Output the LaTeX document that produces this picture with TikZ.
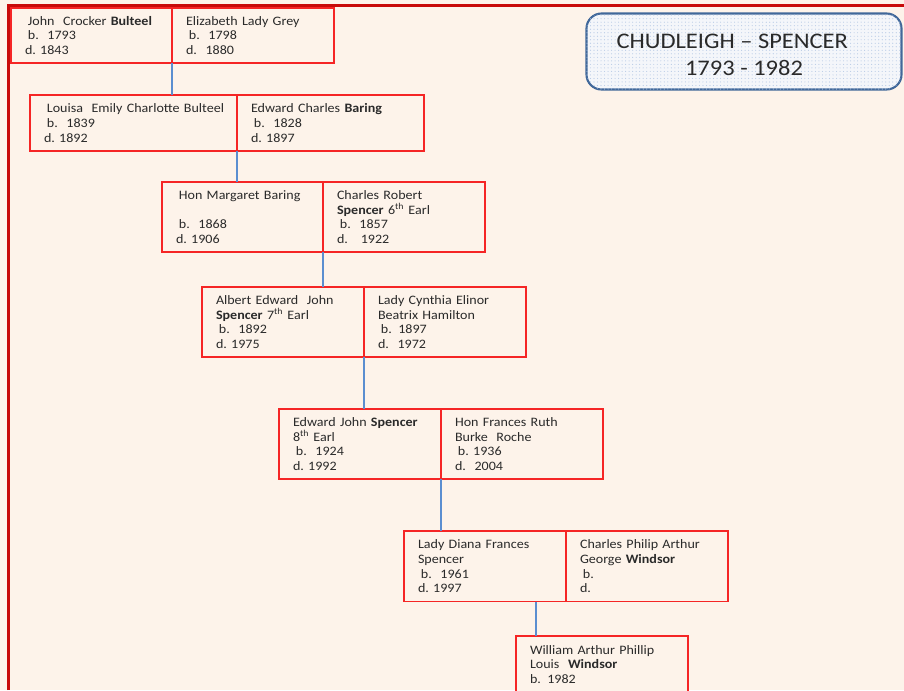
\documentclass[tikz,border=0pt]{standalone}
\usepackage{fontspec}
\setmainfont{Carlito}[FakeStretch=1.09]
\newfontfamily\titlefont{Carlito}[FakeStretch=1.1]
\usetikzlibrary{patterns}
\definecolor{paper}{HTML}{FDF3EA}
\definecolor{framered}{HTML}{C80A0A}
\definecolor{boxred}{HTML}{F52525}
\definecolor{linkblue}{HTML}{5B8ED0}
\definecolor{titleblue}{HTML}{41689A}
\definecolor{titlefill}{HTML}{F4F6FA}
\definecolor{titledot}{HTML}{B9CBE6}
\definecolor{ink}{HTML}{2A2A2A}
\newcommand\pad{\hspace*{2.5pt}}
\begin{document}
\begin{tikzpicture}[x=0.03cm,y=-0.03cm,
 person/.style={draw=boxred,line width=1.3pt,fill=paper,anchor=north west,align=left,text width=#1,
  outer sep=0pt,inner xsep=0.42cm,inner ysep=5.6pt,text=ink,font=\fontsize{11}{12.5}\selectfont},
 person/.default=4.02cm,
 link/.style={draw=linkblue,line width=1.4pt},
 frame/.style={draw=framered,line width=2.8pt},
 titlebox/.style={draw=titleblue,line width=1.8pt,rounded corners=0.45cm,fill=titlefill,
  postaction={pattern=dots,pattern color=titledot},minimum width=9.45cm,minimum height=2.28cm,
  align=center,text=ink,font=\titlefont\fontsize{19}{23}\selectfont}]
\fill[paper](0,0)rectangle(904,690);
\useasboundingbox(0,0)rectangle(904,690);
\draw[frame](8.8,690)--(8.8,5.3)--(904,5.3);
\node[titlebox](title)at(744,51.5){\rule{0pt}{18pt}CHUDLEIGH \textendash{} SPENCER\hspace*{20pt}\\1793 - 1982};
\node[person=3.99cm,minimum height=1.65cm](bulteel)at(11,8){\pad\mbox{John\ \ Crocker \textbf{Bulteel}}\\\pad b.\ \ 1793\\d.\ 1843};
\node[person,minimum height=1.65cm](grey)at(bulteel.north east){Elizabeth Lady Grey\\\pad b.\ \ 1798\\d.\ \ 1880};
\node[person=5.37cm,minimum height=1.68cm](louisa)at(30,95){\pad\mbox{Louisa\ \ Emily Charlotte Bulteel}\\\pad b.\ \ 1839\\d.\ 1892};
\node[person=4.77cm,minimum height=1.68cm](ebaring)at(louisa.north east){Edward Charles \textbf{Baring}\\\pad b.\ \ 1828\\d.\ 1897};
\node[person=3.99cm,minimum height=2.1cm](margaret)at(162,182){\pad Hon Margaret Baring\\[12.5pt]\pad b.\ \ 1868\\d.\ 1906};
\node[person,minimum height=2.1cm](spencer6)at(margaret.north east){Charles Robert\\\textbf{Spencer} 6\textsuperscript{th} Earl\\\pad b.\ \ 1857\\d.\ \ \ 1922};
\node[person,minimum height=2.1cm](spencer7)at(202,287){Albert Edward\ \ John\\\textbf{Spencer} 7\textsuperscript{th} Earl\\\pad b.\ \ 1892\\d.\ 1975};
\node[person,minimum height=2.1cm](cynthia)at(spencer7.north east){Lady Cynthia Elinor\\Beatrix Hamilton\\\pad b. 1897\\d.\ \ 1972};
\node[person,minimum height=2.1cm](spencer8)at(279,409){\mbox{Edward John \textbf{Spencer}}\\8\textsuperscript{th} Earl\\\pad b.\ \ 1924\\d.\ 1992};
\node[person,minimum height=2.1cm](frances)at(spencer8.north east){Hon Frances Ruth\\Burke\ \ Roche\\\pad b.\ 1936\\d.\ \ 2004};
\node[person,minimum height=2.12cm](diana)at(404,531){Lady Diana Frances\\Spencer\\\pad b.\ \ 1961\\d.\ 1997};
\node[person,minimum height=2.12cm](charles)at(diana.north east){\mbox{Charles Philip Arthur}\\George \textbf{Windsor}\\\pad b.\\d.};
\node[person=4.32cm,minimum height=1.7cm](william)at(516,636){William Arthur Phillip\\Louis\ \ \textbf{Windsor}\\b. 1982};
\coordinate(wtop)at([xshift=0.6cm]william.north west);
\draw[link](bulteel.south east)--(bulteel.south east|-louisa.north);
\draw[link](louisa.south east)--(louisa.south east|-margaret.north);
\draw[link](margaret.south east)--(margaret.south east|-spencer7.north);
\draw[link](spencer7.south east)--(spencer7.south east|-spencer8.north);
\draw[link](spencer8.south east)--(spencer8.south east|-diana.north);
\draw[link](wtop|-diana.south)--(wtop);
\end{tikzpicture}
\end{document}
